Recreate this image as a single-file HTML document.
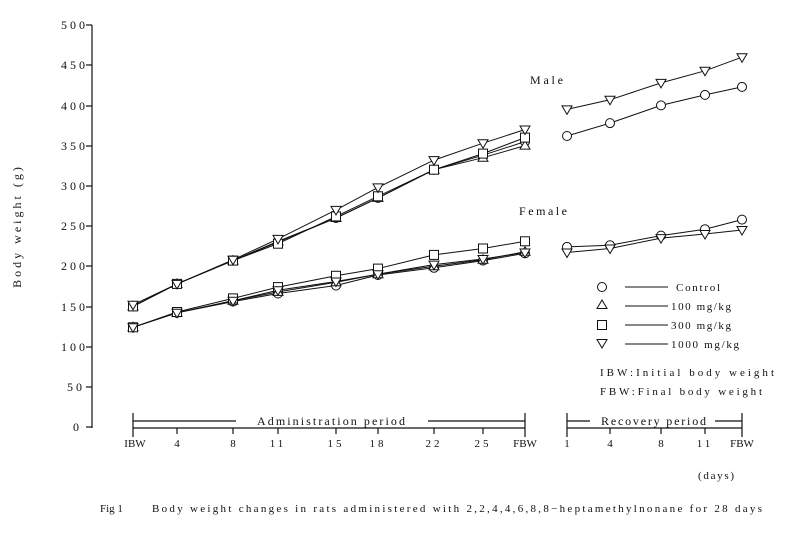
<!DOCTYPE html>
<html><head><meta charset="utf-8"><style>
body{margin:0;background:#fff;}
svg{display:block;font-family:"Liberation Serif","Noto Serif CJK SC",serif;}
text{fill:#111;}
</style></head><body>
<svg width="808" height="537" viewBox="0 0 808 537" xmlns="http://www.w3.org/2000/svg">
<defs>
<g id="c"><circle cx="0" cy="0" r="4.5" fill="#fff" stroke="#111" stroke-width="1"/></g>
<g id="s"><rect x="-4.5" y="-4.5" width="9" height="9" fill="#fff" stroke="#111" stroke-width="1"/></g>
<g id="t"><path d="M0 -5 l5 8.5 h-10 z" fill="#fff" stroke="#111" stroke-width="1"/></g>
<g id="v"><path d="M0 5 l5 -8.5 h-10 z" fill="#fff" stroke="#111" stroke-width="1"/></g>
</defs>
<g stroke="#111" stroke-width="1.2" fill="none">
<line x1="92" y1="25" x2="92" y2="428"/>
<line x1="86" y1="25" x2="92" y2="25"/><line x1="86" y1="65" x2="92" y2="65"/>
<line x1="86" y1="106" x2="92" y2="106"/><line x1="86" y1="146" x2="92" y2="146"/>
<line x1="86" y1="186" x2="92" y2="186"/><line x1="86" y1="226" x2="92" y2="226"/>
<line x1="86" y1="266" x2="92" y2="266"/><line x1="86" y1="307" x2="92" y2="307"/>
<line x1="86" y1="347" x2="92" y2="347"/><line x1="86" y1="387" x2="92" y2="387"/>
<line x1="86" y1="427" x2="92" y2="427"/>
<line x1="133" y1="428" x2="525" y2="428"/>
<line x1="133" y1="413" x2="133" y2="437"/><line x1="525" y1="413" x2="525" y2="437"/>
<line x1="133" y1="421" x2="236" y2="421"/><line x1="428" y1="421" x2="525" y2="421"/>
<line x1="177" y1="428" x2="177" y2="434"/><line x1="233" y1="428" x2="233" y2="434"/>
<line x1="278" y1="428" x2="278" y2="434"/><line x1="336" y1="428" x2="336" y2="434"/>
<line x1="378" y1="428" x2="378" y2="434"/><line x1="434" y1="428" x2="434" y2="434"/>
<line x1="483" y1="428" x2="483" y2="434"/>
<line x1="567" y1="428" x2="742" y2="428"/>
<line x1="567" y1="413" x2="567" y2="437"/><line x1="742" y1="413" x2="742" y2="437"/>
<line x1="567" y1="421" x2="590" y2="421"/><line x1="715" y1="421" x2="742" y2="421"/>
<line x1="610" y1="428" x2="610" y2="434"/><line x1="661" y1="428" x2="661" y2="434"/>
<line x1="705" y1="428" x2="705" y2="434"/>
</g>
<g font-size="12" text-anchor="end" letter-spacing="3">
<text x="88" y="29">500</text><text x="88" y="69">450</text><text x="88" y="110">400</text>
<text x="88" y="150">350</text><text x="88" y="190">300</text><text x="88" y="230">250</text>
<text x="88" y="270">200</text><text x="88" y="311">150</text><text x="88" y="351">100</text>
<text x="85" y="391">50</text><text x="82" y="431">0</text>
</g>
<text transform="translate(21,226) rotate(-90)" font-size="12" text-anchor="middle" letter-spacing="3">Body weight (g)</text>
<g font-size="11" text-anchor="middle">
<text x="135" y="447">IBW</text><text x="177" y="447">4</text><text x="233" y="447">8</text>
<text x="278" y="447" letter-spacing="3">11</text><text x="336" y="447" letter-spacing="3">15</text>
<text x="378" y="447" letter-spacing="3">18</text><text x="434" y="447" letter-spacing="3">22</text>
<text x="483" y="447" letter-spacing="3">25</text><text x="525" y="447">FBW</text>
<text x="567" y="447">1</text><text x="610" y="447">4</text><text x="661" y="447">8</text>
<text x="705" y="447" letter-spacing="3">11</text><text x="742" y="447">FBW</text>
</g>
<text x="698" y="479" font-size="11" textLength="36">(days)</text>
<text x="257" y="425" font-size="12" textLength="148">Administration period</text>
<text x="601" y="425" font-size="12" textLength="105">Recovery period</text>
<text x="530" y="84" font-size="12" textLength="33">Male</text>
<text x="519" y="215" font-size="12" textLength="48">Female</text>
<text x="100" y="512" font-size="11">Fig 1</text>
<text x="152" y="512" font-size="11" textLength="610">Body weight changes in rats administered with 2,2,4,4,6,8,8−heptamethylnonane for 28 days</text>
<g stroke="#111" stroke-width="1" fill="none">
<line x1="625" y1="287" x2="668" y2="287"/><line x1="625" y1="306" x2="668" y2="306"/>
<line x1="625" y1="325" x2="668" y2="325"/><line x1="625" y1="344" x2="668" y2="344"/>
</g>
<use href="#c" x="602" y="287"/><use href="#t" x="602" y="305"/>
<use href="#s" x="602" y="325"/><use href="#v" x="602" y="343"/>
<g font-size="11">
<text x="676" y="291" textLength="44">Control</text><text x="671" y="310" textLength="60">100 mg/kg</text>
<text x="671" y="329" textLength="60">300 mg/kg</text><text x="671" y="348" textLength="68">1000 mg/kg</text>
<text x="600" y="376" textLength="174">IBW:Initial body weight</text>
<text x="600" y="395" textLength="162">FBW:Final body weight</text>
</g>
<g stroke="#111" stroke-width="1" fill="none">
<polyline points="133,306.4 177,283.9 233,260.6 278,242.1 336,218 378,197.9 434,169.7 483,155.2 525,141.6"/>
<polyline points="133,306.4 177,283.9 233,260.6 278,241.3 336,218 378,197.9 434,169.7 483,157.7 525,145.6"/>
<polyline points="133,306.4 177,283.9 233,260.6 278,243.7 336,216.4 378,196.3 434,169.7 483,153.6 525,137.6"/>
<polyline points="133,304.8 177,283.9 233,259.8 278,238.9 336,209.9 378,187.4 434,160.1 483,143.2 525,129.5"/>
<polyline points="133,327.3 177,312.8 233,301.6 278,293.5 336,285.5 378,275 434,267.8 483,260.6 525,253.3"/>
<polyline points="133,327.3 177,312.8 233,300.8 278,291.9 336,282.3 378,274.2 434,266.2 483,259.8 525,251.7"/>
<polyline points="133,327.3 177,312 233,298.4 278,287.1 336,275.8 378,268.6 434,254.9 483,248.5 525,241.3"/>
<polyline points="133,327.3 177,312.8 233,300.8 278,290.3 336,281.5 378,274.2 434,264.6 483,259 525,252.5"/>
<polyline points="567,136 610,123.1 661,105.4 705,94.9 742,86.9"/>
<polyline points="567,109.4 610,99.8 661,82.9 705,70.8 742,57.2"/>
<polyline points="567,246.9 610,245.3 661,235.6 705,229.2 742,219.6"/>
<polyline points="567,252.5 610,248.5 661,238.1 705,234 742,230"/>
</g>
<use href="#c" x="133" y="306.4"/><use href="#c" x="177" y="283.9"/><use href="#c" x="233" y="260.6"/><use href="#c" x="278" y="242.1"/><use href="#c" x="336" y="218"/><use href="#c" x="378" y="197.9"/><use href="#c" x="434" y="169.7"/><use href="#c" x="483" y="155.2"/><use href="#c" x="525" y="141.6"/>
<use href="#t" x="133" y="306.4"/><use href="#t" x="177" y="283.9"/><use href="#t" x="233" y="260.6"/><use href="#t" x="278" y="241.3"/><use href="#t" x="336" y="218"/><use href="#t" x="378" y="197.9"/><use href="#t" x="434" y="169.7"/><use href="#t" x="483" y="157.7"/><use href="#t" x="525" y="145.6"/>
<use href="#s" x="133" y="306.4"/><use href="#s" x="177" y="283.9"/><use href="#s" x="233" y="260.6"/><use href="#s" x="278" y="243.7"/><use href="#s" x="336" y="216.4"/><use href="#s" x="378" y="196.3"/><use href="#s" x="434" y="169.7"/><use href="#s" x="483" y="153.6"/><use href="#s" x="525" y="137.6"/>
<use href="#v" x="133" y="304.8"/><use href="#v" x="177" y="283.9"/><use href="#v" x="233" y="259.8"/><use href="#v" x="278" y="238.9"/><use href="#v" x="336" y="209.9"/><use href="#v" x="378" y="187.4"/><use href="#v" x="434" y="160.1"/><use href="#v" x="483" y="143.2"/><use href="#v" x="525" y="129.5"/>
<use href="#c" x="133" y="327.3"/><use href="#c" x="177" y="312.8"/><use href="#c" x="233" y="301.6"/><use href="#c" x="278" y="293.5"/><use href="#c" x="336" y="285.5"/><use href="#c" x="378" y="275"/><use href="#c" x="434" y="267.8"/><use href="#c" x="483" y="260.6"/><use href="#c" x="525" y="253.3"/>
<use href="#t" x="133" y="327.3"/><use href="#t" x="177" y="312.8"/><use href="#t" x="233" y="300.8"/><use href="#t" x="278" y="291.9"/><use href="#t" x="336" y="282.3"/><use href="#t" x="378" y="274.2"/><use href="#t" x="434" y="266.2"/><use href="#t" x="483" y="259.8"/><use href="#t" x="525" y="251.7"/>
<use href="#s" x="133" y="327.3"/><use href="#s" x="177" y="312"/><use href="#s" x="233" y="298.4"/><use href="#s" x="278" y="287.1"/><use href="#s" x="336" y="275.8"/><use href="#s" x="378" y="268.6"/><use href="#s" x="434" y="254.9"/><use href="#s" x="483" y="248.5"/><use href="#s" x="525" y="241.3"/>
<use href="#v" x="133" y="327.3"/><use href="#v" x="177" y="312.8"/><use href="#v" x="233" y="300.8"/><use href="#v" x="278" y="290.3"/><use href="#v" x="336" y="281.5"/><use href="#v" x="378" y="274.2"/><use href="#v" x="434" y="264.6"/><use href="#v" x="483" y="259"/><use href="#v" x="525" y="252.5"/>
<use href="#c" x="567" y="136"/><use href="#c" x="610" y="123.1"/><use href="#c" x="661" y="105.4"/><use href="#c" x="705" y="94.9"/><use href="#c" x="742" y="86.9"/>
<use href="#v" x="567" y="109.4"/><use href="#v" x="610" y="99.8"/><use href="#v" x="661" y="82.9"/><use href="#v" x="705" y="70.8"/><use href="#v" x="742" y="57.2"/>
<use href="#c" x="567" y="246.9"/><use href="#c" x="610" y="245.3"/><use href="#c" x="661" y="235.6"/><use href="#c" x="705" y="229.2"/><use href="#c" x="742" y="219.6"/>
<use href="#v" x="567" y="252.5"/><use href="#v" x="610" y="248.5"/><use href="#v" x="661" y="238.1"/><use href="#v" x="705" y="234"/><use href="#v" x="742" y="230"/>
</svg>
</body></html>
